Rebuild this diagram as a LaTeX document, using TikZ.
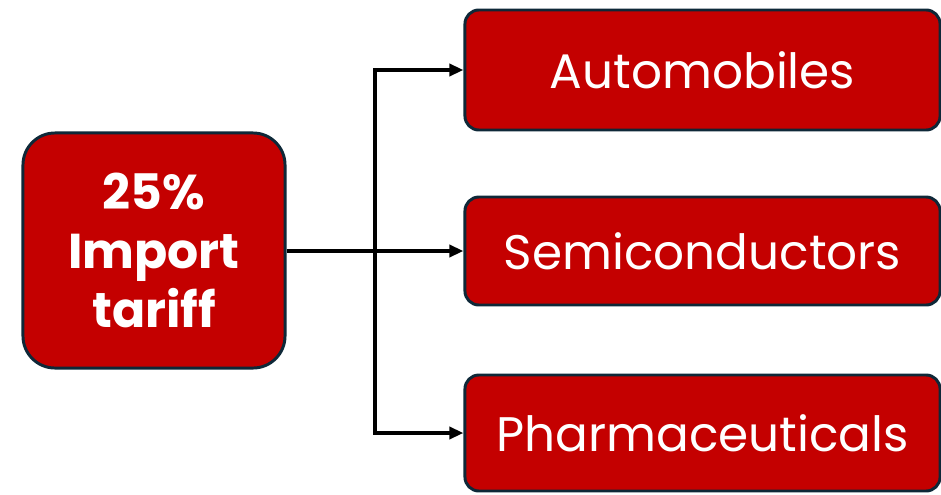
\documentclass[tikz,border=0pt]{standalone}
\usepackage{fontspec}
\setmainfont{Poppins}
\usetikzlibrary{arrows.meta}
\definecolor{tariff-red}{HTML}{C40000}
\definecolor{edge-navy}{HTML}{0E2838}

\begin{document}
\begin{tikzpicture}[x=0.025cm, y=-0.025cm,
        every node/.style={font=\fontsize{34.5}{41}\selectfont, text=white},
        redbox/.style={draw=edge-navy, line width=2.1pt, fill=tariff-red,
            rounded corners=0.35cm, minimum width=11.875cm},
        conn/.style={line width=2.6pt, -{Triangle[length=10pt,width=8.5pt]}}]
      \useasboundingbox (0,0) rectangle (941,494);
      % source box
      \node[redbox, rounded corners=0.8cm, minimum width=6.55cm,
            minimum height=5.875cm, align=center,
            font=\fontsize{34.8}{42}\selectfont\bfseries] (tariff) at (154,250.5)
            {25\%\\Import\\tariff};
      % targets
      \node[redbox, minimum height=3cm] (auto) at (702.5,70) {Automobiles};
      \node[redbox, minimum height=2.7cm] (semi) at (702.5,251) {Semiconductors};
      \node[redbox, minimum height=2.9cm] (pharma) at (702.5,433) {Pharmaceuticals};
      \coordinate (split) at (375,251);
      \draw[line width=2.6pt] (tariff.east |- split) -- (split);
      \draw[conn] (split) |- (auto.west);
      \draw[conn] (split) -- (semi.west);
      \draw[conn] (split) |- (pharma.west);
    \end{tikzpicture}
\end{document}
